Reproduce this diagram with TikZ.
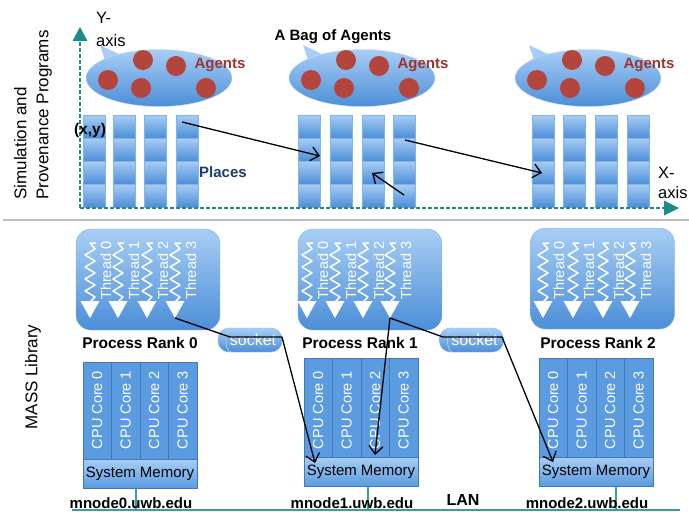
\documentclass[tikz,border=0pt]{standalone}
\usepackage{fontspec}
\setmainfont{Liberation Sans}
\usetikzlibrary{arrows.meta,shapes.geometric}
\definecolor{lightb}{HTML}{A8CEF5}
\definecolor{midb}{HTML}{4C8ED8}
\definecolor{coreb}{HTML}{5B9BE0}
\definecolor{axteal}{HTML}{1E8C82}
\definecolor{lanteal}{HTML}{38A197}
\definecolor{dotred}{HTML}{B4453C}
\definecolor{agred}{HTML}{9A3530}
\definecolor{placeb}{HTML}{1C3E70}
\definecolor{sepgray}{HTML}{BEBEBE}
\begin{document}
\begin{tikzpicture}[x=1pt,y=-1pt,
  cellbox/.style={rectangle, draw=lightb!60!midb, line width=0.3pt, top color=lightb, bottom color=midb,
    minimum width=22pt, minimum height=23pt, inner sep=0pt, outer sep=0pt, anchor=north west},
  bagshape/.style={ellipse, draw=lightb!70!white, line width=0.4pt, top color=lightb, bottom color=midb,
    minimum width=146pt, minimum height=57pt, inner sep=0pt},
  agentdot/.style={circle, fill=dotred, minimum size=20pt, inner sep=0pt},
  agentlbl/.style={text=agred, font=\fontsize{15}{17}\selectfont\bfseries, inner sep=0pt},
  procbox/.style={rectangle, rounded corners=15pt, draw=lightb!60!midb, line width=0.4pt,
    top color=lightb, bottom color=midb, minimum width=144pt, minimum height=101pt, inner sep=0pt},
  proclabel/.style={font=\fontsize{15.5}{17}\selectfont\bfseries, inner sep=0pt},
  sockbox/.style={rectangle, rounded corners=11pt, draw=lightb!60!midb, line width=0.4pt,
    top color=lightb, bottom color=midb, minimum width=64pt, minimum height=24pt, inner sep=0pt,
    text=white, font=\fontsize{16}{17}\selectfont},
  corebox/.style={rectangle, fill=coreb, draw=midb!85!black, line width=0.3pt, minimum width=28.5pt, inner sep=0pt},
  coretext/.style={rotate=90, text=white, font=\fontsize{14.5}{16}\selectfont, inner sep=0pt},
  membox/.style={rectangle, top color=lightb, bottom color=coreb, draw=midb!85!black, line width=0.3pt,
    minimum width=114pt, inner sep=0pt, font=\fontsize{15}{17}\selectfont},
  hostlabel/.style={font=\fontsize{15}{17}\selectfont\bfseries, inner sep=0pt},
  connarrow/.style={draw=black, line width=1.3pt, line join=round, -{Straight Barb[length=8pt,width=14pt]}},
  axisline/.style={draw=axteal, line width=1.3pt, dash pattern=on 4pt off 2pt},
  lanline/.style={draw=lanteal, line width=1.2pt},
  axislbl/.style={anchor=base west, font=\fontsize{16.5}{18}\selectfont, inner sep=0pt},
  threadtext/.style={rotate=90, anchor=west, text=white, font=\fontsize{14.5}{16}\selectfont, inner sep=0pt},
  sidetitle/.style={rotate=90, font=\fontsize{17}{22}\selectfont, inner sep=0pt},
  pics/threadicon/.style={code={
    \draw[white, line width=1.5pt, line join=round] (6,243) -- (0,243) -- (5,249) -- (-5,255) -- (5,261) -- (-5,267)
      -- (5,273) -- (-5,279) -- (5,285) -- (-5,291) -- (5,297) -- (0,302);
    \fill[white] (-9.5,301) -- (9.5,301) -- (0,318) -- cycle;
    \coordinate (-tip) at (0,318);
    \node[threadtext] (-lbl) at (16,300) {Thread #1};
  }}
]
\useasboundingbox (0,0) rectangle (689,512);

% ---------- side titles ----------
\node[sidetitle, align=left] (simtitle) at (33,115) {Simulation and\\Provenance Programs};
\node[sidetitle] (masstitle) at (33,377) {MASS Library};

% ---------- separator ----------
\coordinate (sepL) at (3,220);
\coordinate (sepR) at (689,220);
\draw[sepgray, line width=2pt] (sepL) -- (sepR);

% ---------- places ----------
\foreach \g/\xa/\xb/\xc/\xd in {1/83/113/144/176, 2/298/330/362/393, 3/532/563/595/627} {
  \foreach \c/\xx in {1/\xa, 2/\xb, 3/\xc, 4/\xd} {
    \foreach \r in {1,...,4} {
      \node[cellbox] (p-\g-\c-\r) at (\xx, {115+23*(\r-1)}) {};
    }
  }
}

% ---------- bags of agents ----------
\foreach \b/\cx in {1/159, 2/362, 3/588} {
  \fill[lightb] (\cx-59,45) -- (\cx-54,60) -- (\cx-36,56) -- cycle;
  \node[bagshape] (bag\b) at (\cx,78) {};
  \node[agentdot] (bag\b-d1) at (\cx-51,80) {};
  \node[agentdot] (bag\b-d2) at (\cx-16,60) {};
  \node[agentdot] (bag\b-d3) at (\cx+17,66) {};
  \node[agentdot] (bag\b-d4) at (\cx-18,88) {};
  \node[agentdot] (bag\b-d5) at (\cx+47,88) {};
  \node[agentlbl] (bag\b-lbl) at (\cx+61,65) {Agents};
}
\node[font=\fontsize{15}{17}\selectfont\bfseries, inner sep=0pt] (bagtitle) at (333,37) {A Bag of Agents};

% ---------- axes ----------
\coordinate (origin) at (80,208);
\coordinate (ytop) at (80,40);
\coordinate (xend) at (665,208);
\draw[axisline] (origin) -- (ytop);
\draw[axisline] (origin) -- (xend);
\fill[axteal] (80,27) -- (87.5,41) -- (72.5,41) -- cycle;
\fill[axteal] (679,208) -- (664,200.5) -- (664,215.5) -- cycle;
\node[axislbl] (ylab1) at (96,23) {Y-};
\node[axislbl] (ylab2) at (96,46) {axis};
\node[axislbl] (xlab1) at (658,178) {X-};
\node[axislbl] (xlab2) at (658,198) {axis};

\node[font=\fontsize{15.5}{17}\selectfont\bfseries, inner sep=0pt] (xylbl) at (90,130) {(x,y)};
\node[font=\fontsize{15}{17}\selectfont\bfseries, text=placeb, inner sep=0pt] (placeslbl) at (223,172) {Places};

% ---------- agent migration arrows ----------
\coordinate (a1s) at (182,122);
\coordinate (a1e) at (320,156);
\coordinate (a2s) at (405,140);
\coordinate (a2e) at (542,173);
\coordinate (a3s) at (404,195);
\coordinate (a3e) at (372,173);
\draw[connarrow] (a1s) -- (a1e);
\draw[connarrow] (a2s) -- (a2e);
\draw[connarrow] (a3s) -- (a3e);

% ---------- process boxes ----------
\node[procbox] (rank0) at (148,279.5) {};
\node[procbox] (rank1) at (370,279.5) {};
\node[procbox] (rank2) at (602.5,278.5) {};
\foreach \r/\xa/\xb/\xc/\xd in {0/90/118/147/175, 1/307/335/363/390, 2/543/573/603/630} {
  \pic (r\r t0) at (\xa,0) {threadicon=0};
  \pic (r\r t1) at (\xb,0) {threadicon=1};
  \pic (r\r t2) at (\xc,0) {threadicon=2};
  \pic (r\r t3) at (\xd,0) {threadicon=3};
}
\node[proclabel] (plbl0) at (140,343) {Process Rank 0};
\node[proclabel] (plbl1) at (360,343) {Process Rank 1};
\node[proclabel] (plbl2) at (598,343) {Process Rank 2};

% ---------- sockets ----------
\node[sockbox] (sock1) at (250,340) {\hspace*{6pt}socket};
\node[sockbox] (sock2) at (471.5,340) {\hspace*{6pt}socket};
\draw[lightb, line width=0.8pt] ([xshift=13pt]sock1.north west) arc[start angle=270, end angle=90, x radius=5, y radius=12];
\draw[lightb, line width=0.8pt] ([xshift=13pt]sock2.north west) arc[start angle=270, end angle=90, x radius=5, y radius=12];

% ---------- CPU blocks ----------
\foreach \r/\lx/\ty/\my/\by in {0/83/362/459/488, 1/304/358/457/486, 2/539/358/457/486} {
  \foreach \k in {0,...,3} {
    \node[corebox, minimum height={\my-\ty}] (core\r-\k) at ({\lx+28.5*\k+14.25}, {(\ty+\my)/2}) {};
    \node[coretext] (coretxt\r-\k) at ({\lx+28.5*\k+14.25}, 410) {CPU Core \k};
  }
  \node[membox, minimum height={\by-\my}] (mem\r) at ({\lx+57},{(\my+\by)/2}) {System Memory};
}

% ---------- LAN ----------
\coordinate (lanL) at (72,510);
\coordinate (lanR) at (680,510);
\draw[lanline] (lanL) -- (lanR);
\draw[lanline] ([xshift=-4pt]mem0.south) -- ([xshift=-4pt]mem0.south |- lanL);
\draw[lanline] ([xshift=7pt]mem1.south) -- ([xshift=7pt]mem1.south |- lanL);
\draw[lanline] ([xshift=20pt]mem2.south) -- ([xshift=20pt]mem2.south |- lanL);
\node[hostlabel] (host0) at (131,503) {mnode0.uwb.edu};
\node[hostlabel] (host1) at (352,503) {mnode1.uwb.edu};
\node[hostlabel] (host2) at (587,503) {mnode2.uwb.edu};
\node[hostlabel, font=\fontsize{16}{17}\selectfont\bfseries] (lanlbl) at (463,500) {LAN};

% ---------- communication arrows ----------
\coordinate (s1a) at (230,337);
\coordinate (s1b) at (282,337);
\coordinate (endA) at (315,463);
\coordinate (endB) at (375,455);
\coordinate (s2a) at (443,337);
\coordinate (s2b) at (502,337);
\coordinate (endC) at (553,462);
\draw[connarrow] (r0t3-tip) -- (s1a) -- (s1b) -- (endA);
\draw[connarrow] (r1t3-tip) -- (endB);
\draw[connarrow] (r1t3-tip) -- (s2a) -- (s2b) -- (endC);
\end{tikzpicture}
\end{document}
